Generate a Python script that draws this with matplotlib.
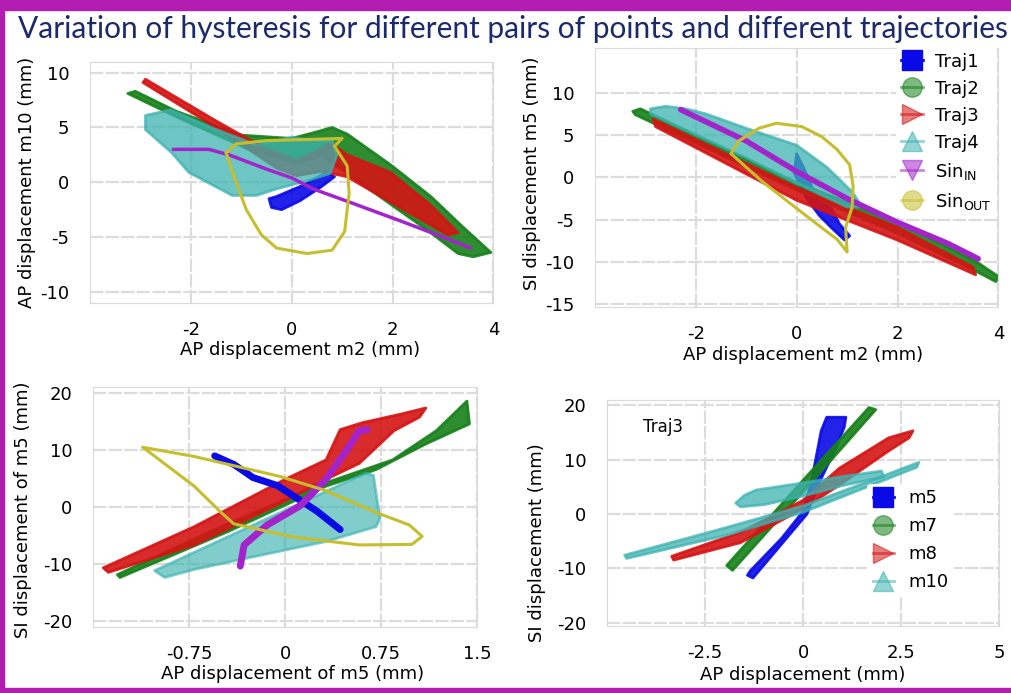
import matplotlib
matplotlib.use("Agg")
import matplotlib.pyplot as plt
from matplotlib.lines import Line2D
from matplotlib.patches import Rectangle
import numpy as np

plt.rcParams['font.family'] = ['DejaVu Sans']
plt.rcParams['axes.unicode_minus'] = False

title = "Variation of hysteresis for different pairs of points and different trajectories"

traj_labels = ['Traj1', 'Traj2', 'Traj3', 'Traj4', r'Sin$_{\rm IN}$', r'Sin$_{\rm OUT}$']
point_labels = ['m5', 'm7', 'm8', 'm10']
colors = ['#0a0ae6', '#17801a', '#d41414', '#3cb2b0', '#a424cc', '#c6be2e']
markers = ['s', 'o', '>', '^', 'v', 'o']

# outlines of the hysteresis bands (x, y in mm)
# panel 1: AP m2 vs AP m10
p1_traj1 = np.array([(-0.45, -1.5), (-0.4, -2.3), (-0.2, -2.5), (0.16, -1.7), (0.56, -0.5),
                     (0.85, 0.5), (0.7, 0.9), (0.16, -0.4), (-0.3, -1.3)])
p1_traj2 = np.array([(-3.25, 8.1), (-3.1, 8.3), (-2.3, 6.5), (-1.0, 4.3), (0.0, 4.0), (0.5, 4.6),
                     (0.8, 5.0), (1.1, 4.4), (1.96, 1.6), (2.76, -1.3), (3.4, -4.1), (3.95, -6.4),
                     (3.6, -6.8), (3.3, -6.5), (2.7, -4.4), (1.96, -2.0), (1.2, 0.5), (0.6, 2.4),
                     (0.1, 1.8), (-0.8, 2.9), (-2.3, 6.0)])
p1_traj3 = np.array([(-2.9, 9.4), (-1.5, 5.6), (-0.5, 3.0), (0.1, 2.0), (0.5, 2.8), (0.76, 3.6),
                     (1.1, 2.5), (1.96, 0.9), (2.76, -2.1), (3.3, -4.6), (3.1, -4.8), (2.76, -3.9),
                     (1.96, -1.8), (1.1, 0.5), (0.6, 1.0), (0.1, 0.6), (-0.3, 1.3), (-1.5, 5.0),
                     (-2.95, 9.1)])
p1_traj4 = np.array([(-2.9, 6.1), (-2.4, 6.6), (-1.6, 5.0), (-0.7, 3.4), (0.0, 4.1), (0.4, 3.8),
                     (0.8, 3.8), (0.9, 2.5), (0.76, 0.8), (0.36, 0.2), (-0.3, -0.6), (-0.7, -1.2),
                     (-1.18, -1.2), (-2.04, 0.9), (-2.38, 2.7), (-2.9, 4.8)])
p1_sin_in = np.array([(-2.35, 3.0), (-1.64, 3.0), (-1.24, 2.5), (-0.5, 1.2), (0.0, 0.4),
                      (0.42, -0.6), (1.2, -1.9), (2.2, -3.6), (3.0, -5.0), (3.55, -6.0)])
p1_sin_out = np.array([(-1.3, 2.7), (-1.1, 3.5), (-0.5, 3.8), (0.3, 3.9), (1.0, 4.0), (0.85, 3.3),
                       (1.1, 1.5), (1.14, -1.0), (1.05, -4.5), (0.8, -6.2), (0.3, -6.5),
                       (-0.3, -6.0), (-0.6, -4.8), (-0.9, -2.5), (-1.1, 0.0), (-1.3, 2.7)])

# panel 2: AP m2 vs SI m5
p2_traj1 = np.array([(0.0, 2.8), (0.15, 1.0), (0.35, -1.8), (0.7, -3.8), (0.85, -5.5), (1.05, -6.9),
                     (0.95, -7.4), (0.7, -6.0), (0.45, -4.5), (0.2, -2.5), (-0.05, 0.5)])
p2_traj2 = np.array([(-3.25, 7.8), (-3.1, 8.1), (0.0, -0.6), (2.0, -5.3), (3.5, -9.7), (4.0, -11.7),
                     (3.95, -12.3), (3.5, -10.9), (2.0, -6.6), (0.0, -1.5), (-3.2, 7.4)])
p2_traj3 = np.array([(-2.85, 6.9), (0.0, -1.2), (2.0, -5.9), (3.5, -10.6), (3.55, -11.5),
                     (2.0, -7.4), (0.0, -2.7), (-2.8, 6.0)])
p2_traj4 = np.array([(-2.9, 8.1), (-2.6, 8.4), (-2.2, 8.1), (-1.8, 7.5), (-1.0, 5.8), (0.0, 3.8),
                     (0.6, 1.2), (1.1, -1.7), (1.3, -3.5), (1.0, -3.5), (0.0, -0.7), (-1.0, 2.3),
                     (-2.0, 5.0), (-2.9, 7.5)])
p2_sin_in = np.array([(-2.3, 8.0), (-1.0, 4.3), (0.0, 0.7), (1.0, -2.5), (2.0, -5.3), (3.0, -7.8),
                      (3.6, -9.6)])
p2_sin_out = np.array([(-1.3, 2.8), (-1.15, 4.3), (-0.75, 5.8), (-0.4, 6.4), (0.1, 6.0), (0.5, 4.8),
                       (0.8, 3.3), (1.05, 1.5), (1.12, -1.0), (1.1, -3.5), (0.97, -5.9), (1.0, -8.8),
                       (0.8, -7.3), (0.4, -5.5), (-0.1, -3.2), (-0.7, -0.4), (-1.3, 2.8)])

# panel 3: AP m5 vs SI m5
p3_traj1 = np.array([(-0.55, 9.0), (-0.4, 7.5), (-0.25, 5.2), (-0.06, 3.8), (0.12, 1.2),
                     (0.25, -0.7), (0.43, -3.9)])
p3_traj2 = np.array([(-1.31, -11.8), (-0.45, -2.9), (0.32, 4.3), (0.84, 8.3), (1.18, 13.4),
                     (1.42, 18.6), (1.44, 14.6), (1.1, 11.1), (0.71, 6.6), (0.32, 3.7),
                     (-0.45, -4.3), (-1.29, -12.3)])
p3_traj3 = np.array([(-1.42, -10.6), (-0.71, -3.4), (0.0, 4.9), (0.32, 8.3), (0.43, 13.6),
                     (0.6, 14.8), (0.9, 16.3), (1.1, 17.4), (1.05, 15.8), (0.85, 13.4), (0.58, 7.7),
                     (0.32, 4.9), (0.0, 1.1), (-0.71, -6.6), (-1.38, -11.4)])
p3_traj4 = np.array([(-1.02, -11.1), (0.63, 6.0), (0.69, 5.6), (0.74, -2.0), (0.71, -3.4),
                     (0.32, -6.0), (-0.19, -8.4), (-0.71, -10.9), (-0.94, -12.3)])
p3_sin_in = np.array([(-0.35, -10.3), (-0.32, -6.6), (-0.14, -3.1), (0.12, 0.3), (0.32, 4.9),
                      (0.48, 10.0), (0.58, 13.4), (0.64, 13.6)])
p3_sin_out = np.array([(-1.11, 10.5), (-0.71, 8.9), (-0.04, 5.4), (0.32, 2.9), (0.71, -0.9),
                       (0.97, -3.1), (1.07, -5.1), (0.99, -6.5), (0.58, -6.6), (0.06, -5.2),
                       (-0.4, -2.9), (-0.5, -0.9), (-0.71, 3.7), (-1.11, 10.5)])

# panel 4: Traj3, AP vs SI for several markers
p4_m5 = np.array([(-1.42, -11.3), (-1.35, -10.5), (-0.55, -4.5), (0.0, 0.5), (0.21, 5.9),
                  (0.46, 15.3), (0.6, 17.8), (1.09, 17.8), (1.05, 16.0), (0.84, 12.2), (0.42, 5.9),
                  (0.1, 0.0), (-0.6, -6.0), (-1.28, -11.8)])
p4_m7 = np.array([(-1.95, -9.5), (0.0, 6.2), (1.68, 19.6), (1.85, 19.2), (0.1, 4.9), (-1.8, -10.4)])
p4_m8 = np.array([(-3.35, -7.8), (-1.6, -3.4), (0.0, 2.5), (0.92, 8.4), (2.18, 14.0), (2.8, 15.3),
                  (2.7, 14.0), (2.18, 11.6), (0.92, 5.3), (0.0, 1.0), (-1.6, -5.3), (-3.3, -8.5)])
p4_m10 = np.array([(-4.55, -7.6), (-2.0, -2.6), (0.0, 1.5), (1.5, 5.5), (2.95, 9.5), (2.9, 8.6),
                   (1.5, 4.6), (0.0, 0.3), (-2.0, -4.0), (-4.5, -8.2)])
p4_m10_loop = np.array([(-1.72, 2.0), (-1.5, 3.4), (-1.2, 4.4), (-0.1, 5.6), (1.2, 7.1), (2.0, 7.9),
                        (2.05, 6.8), (1.0, 5.2), (0.0, 3.3), (-1.0, 1.7), (-1.6, 1.3)])

purple = '#b21cb0'
navy = '#1b2a6b'


def band(ax, pts, c, a=0.9):
    ax.fill(pts[:, 0], pts[:, 1], color=c, alpha=a, lw=2, joinstyle='round')


def trace(ax, pts, c, lw=2.5):
    ax.plot(pts[:, 0], pts[:, 1], color=c, lw=lw, solid_joinstyle='round',
            solid_capstyle='round')


def style(ax, xlim, ylim, xticks, xticklabels, yticks, xlabel, ylabel, xlab_pos, ylab_pos):
    ax.set_xlim(*xlim)
    ax.set_ylim(*ylim)
    ax.set_xticks(xticks)
    ax.set_xticklabels(xticklabels)
    ax.set_yticks(yticks)
    ax.grid(True, color='#dcdcdc', lw=1.6, ls=(0, (6, 1)))
    ax.set_axisbelow(True)
    for s in ax.spines.values():
        s.set_color('#dadada')
    ax.tick_params(length=0, labelsize=13, pad=13)
    ax.tick_params(axis='y', pad=15)
    ax.set_xlabel(xlabel, fontsize=13, va='center')
    ax.set_ylabel(ylabel, fontsize=13, va='center')
    ax.xaxis.set_label_coords(*xlab_pos)
    ax.yaxis.set_label_coords(*ylab_pos)


fig = plt.figure(figsize=(10.11, 6.93), dpi=100)

ax1 = fig.add_axes([0.089, 0.563, 0.399, 0.348])
ax2 = fig.add_axes([0.5885, 0.557, 0.399, 0.374])
ax3 = fig.add_axes([0.092, 0.095, 0.380, 0.346])
ax4 = fig.add_axes([0.6004, 0.097, 0.388, 0.326])

# panel 1
band(ax1, p1_traj1, colors[0])
band(ax1, p1_traj2, colors[1])
band(ax1, p1_traj3, colors[2])
band(ax1, p1_traj4, colors[3], 0.75)
trace(ax1, p1_sin_in, colors[4], 2.5)
trace(ax1, p1_sin_out, colors[5], 2.2)
style(ax1, (-4, 4), (-11, 11), [-2, 0, 2, 4], ['-2', '0', '2', '4'], [-10, -5, 0, 5, 10],
      'AP displacement m2 (mm)', 'AP displacement m10 (mm)', (0.52, -0.195), (-0.156, 0.5))

# panel 2
band(ax2, p2_traj1, colors[0])
band(ax2, p2_traj2, colors[1])
band(ax2, p2_traj3, colors[2])
band(ax2, p2_traj4, colors[3], 0.75)
trace(ax2, p2_sin_in, colors[4], 4)
trace(ax2, p2_sin_out, colors[5], 2.2)
style(ax2, (-4, 4), (-15.3, 15.3), [-2, 0, 2, 4], ['-2', '0', '2', '4'],
      [-15, -10, -5, 0, 5, 10], 'AP displacement m2 (mm)', 'SI displacement m5 (mm)',
      (0.516, -0.185), (-0.156, 0.517))

# panel 3
trace(ax3, p3_traj1, colors[0], 5)
band(ax3, p3_traj2, colors[1])
band(ax3, p3_traj3, colors[2])
band(ax3, p3_traj4, colors[3], 0.65)
trace(ax3, p3_sin_in, colors[4], 5)
trace(ax3, p3_sin_out, colors[5], 2.2)
style(ax3, (-1.5, 1.5), (-21, 21), [-0.75, 0, 0.75, 1.5], ['-0.75', '0', '0.75', '1.5'],
      [-20, -10, 0, 10, 20], 'AP displacement of m5 (mm)', 'SI displacement of m5 (mm)',
      (0.52, -0.196), (-0.182, 0.49))

# panel 4
band(ax4, p4_m5, colors[0])
band(ax4, p4_m7, colors[1])
band(ax4, p4_m8, colors[2])
band(ax4, p4_m10, colors[3], 0.75)
band(ax4, p4_m10_loop, colors[3], 0.75)
style(ax4, (-5, 5), (-20.6, 21), [-2.5, 0, 2.5, 5], ['-2.5', '0', '2.5', '5'],
      [-20, -10, 0, 10, 20], 'AP displacement (mm)', 'SI displacement (mm)',
      (0.5, -0.217), (-0.179, 0.367))
ax4.text(0.092, 0.88, 'Traj3', transform=ax4.transAxes, fontsize=12, va='center')

# legends
h_traj = [Line2D([], [], color=c, marker=m, markersize=14, lw=2, alpha=0.55 if i else 1)
          for i, (c, m) in enumerate(zip(colors, markers))]
fig.legend(h_traj, traj_labels, loc='upper left', bbox_to_anchor=(0.877, 0.945),
           frameon=True, facecolor='white', edgecolor='none', framealpha=1, fontsize=13,
           labelspacing=0.5, handlelength=1.2, handletextpad=0.7, borderpad=0.3)

h_pts = [Line2D([], [], color=c, marker=m, markersize=14, lw=2, alpha=0.55 if i else 1)
         for i, (c, m) in enumerate(zip(colors[:4], markers[:4]))]
ax4.legend(h_pts, point_labels, loc='upper left', bbox_to_anchor=(0.64, 0.668),
           frameon=True, facecolor='white', edgecolor='none', framealpha=1, fontsize=13,
           labelspacing=0.55, handlelength=1.2, handletextpad=0.8, borderpad=0.3)

fig.text(18 / 1011, 1 - 29 / 693, title, fontsize=21.5, family='Lato', color=navy,
         ha='left', va='center')

# slide frame
fig.add_artist(Rectangle((0, 1 - 10 / 693), 1, 10 / 693, transform=fig.transFigure,
                         color=purple, zorder=10))
fig.add_artist(Rectangle((0, 0), 4 / 1011, 1, transform=fig.transFigure, color=purple, zorder=10))
fig.add_artist(Rectangle((0, 0), 1, 5 / 693, transform=fig.transFigure, color=purple, zorder=10))

fig.savefig('out.png', dpi=100)
